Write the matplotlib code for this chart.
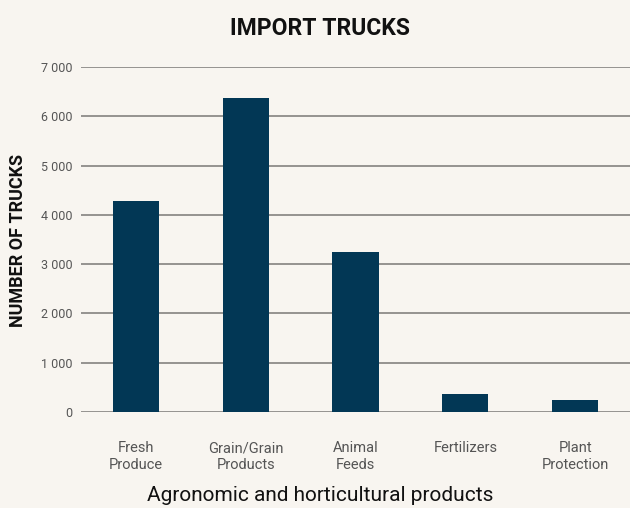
import matplotlib
matplotlib.use("Agg")
import matplotlib.pyplot as plt
from matplotlib.ticker import FuncFormatter

categories = ["Fresh\nProduce", "Grain/Grain\nProducts", "Animal\nFeeds", "Fertilizers", "Plant\nProtection"]
trucks = [4285, 6380, 3250, 370, 250]
y_ticks = [0, 1000, 2000, 3000, 4000, 5000, 6000, 7000]

bg = "#f8f5f0"
bar_color = "#023755"
grid_color = "#7a7876"
tick_color = "#555555"

plt.rcParams["font.family"] = ["Roboto", "DejaVu Sans"]

fig = plt.figure(figsize=(6.3, 5.08), dpi=100, facecolor=bg)
ax = fig.add_axes([81 / 630, (508 - 412) / 508, 549 / 630, 345 / 508], facecolor=bg)

x = range(len(categories))
ax.bar(x, trucks, width=0.42, color=bar_color, zorder=3)

ax.set_xlim(-0.5, len(categories) - 0.5)
ax.set_ylim(0, 7000)
ax.set_yticks(y_ticks)
ax.yaxis.set_major_formatter(FuncFormatter(lambda v, p: f"{int(v):,}".replace(",", " ")))
ax.grid(axis="y", color=grid_color, linewidth=1.1, zorder=0)
ax.set_axisbelow(True)

for s in ax.spines.values():
    s.set_visible(False)

ax.tick_params(axis="y", length=0, pad=6, labelsize=9, labelcolor=tick_color)
ax.tick_params(axis="x", length=0, pad=21, labelsize=10.5, labelcolor=tick_color)
ax.set_xticks(list(x))
ax.set_xticklabels(categories, linespacing=1.25)

fig.text(0.508, 0.944, "IMPORT TRUCKS", ha="center", va="center",
         fontsize=16.5, fontweight="bold", color="#111111")
fig.text(0.029, 0.527, "NUMBER OF TRUCKS", ha="center", va="center", rotation=90,
         fontsize=13, fontweight="bold", color="#111111")
fig.text(0.508, 0.025, "Agronomic and horticultural products", ha="center", va="center",
         fontsize=15, color="#111111")

fig.savefig("out.png", dpi=100, facecolor=bg)
